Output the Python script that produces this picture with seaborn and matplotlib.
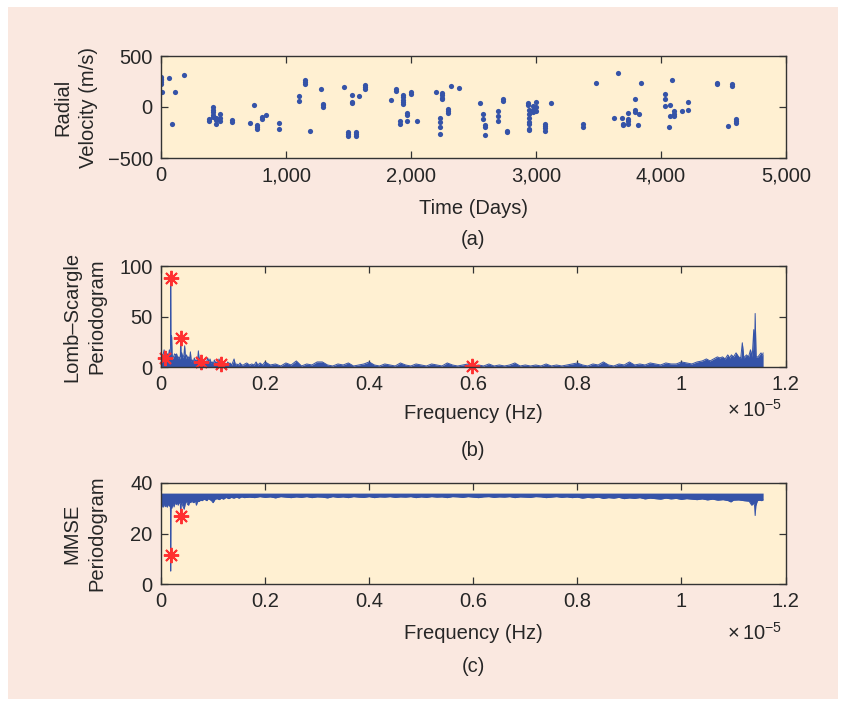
import numpy as np
import seaborn as sns
import matplotlib.pyplot as plt
from matplotlib.patches import Rectangle
from matplotlib.ticker import FuncFormatter

sns.set_style('ticks')
plt.rcParams['font.family'] = ['Liberation Sans', 'DejaVu Sans']
plt.rcParams['mathtext.fontset'] = 'custom'
plt.rcParams['mathtext.rm'] = 'Liberation Sans'
FS = 14.5
plt.rcParams['font.size'] = FS

# (a) radial velocity measurements
time_days = [0, 0, 0, 0, 0, 64, 184, 8, 114, 88,
             413, 413, 413, 413, 413, 381, 381, 442, 442, 442,
             469, 469, 469, 570, 570, 741, 712, 768, 768, 768,
             808, 808, 837, 941, 946, 1101, 1104, 1154, 1154, 1154,
             1189, 1280, 1296, 1296, 1296, 1461, 1634, 1634, 1634, 1528,
             1530, 1530, 1586, 1493, 1493, 1493, 1560, 1560, 1560, 1842,
             1882, 1882, 1934, 1934, 1934, 1934, 1934, 2000, 2000, 1970,
             1970, 1970, 1912, 1912, 2048, 2202, 2248, 2248, 2248, 2248,
             2322, 2386, 2298, 2298, 2298, 2232, 2232, 2232, 2232, 2552,
             2578, 2578, 2594, 2594, 2589, 2698, 2698, 2698, 2738, 2738,
             2765, 2765, 2938, 2938, 2942, 2942, 2942, 2942, 2942, 2942,
             2942, 2973, 2973, 2973, 3000, 3000, 3000, 3069, 3069, 3069,
             3069, 3122, 3373, 3373, 3480, 3658, 3626, 3690, 3696, 3696,
             3733, 3738, 3738, 3738, 3789, 3794, 3794, 3818, 3824, 3842,
             4085, 4032, 4032, 4032, 4074, 4069, 4101, 4101, 4101, 4064,
             4168, 4216, 4218, 4450, 4450, 4565, 4565, 4538, 4600, 4600,
             4600]
velocity = [294, 278, 262, 245, 229, 288, 314, 144, 144, -167,
            0, -25, -52, -78, -98, -118, -137, -104, -130, -163,
            -72, -104, -140, -130, -150, 17, -153, -179, -196, -216,
            -101, -114, -74, -157, -216, 108, 56, 262, 242, 222,
            -231, 176, 33, 17, -3, 196, 213, 196, 173, 118,
            53, 36, 105, -245, -268, -287, -245, -268, -287, 66,
            176, 154, 118, 98, 73, 49, 29, 147, 127, -59,
            -81, -133, -140, -163, -133, 151, 134, 118, 92, 75,
            206, 190, -23, -42, -59, -104, -143, -192, -261, 43,
            -69, -114, -179, -199, -274, -39, -88, -137, 75, 63,
            -235, -248, 43, 24, -25, -65, -104, -143, -163, -212,
            -221, 14, -25, -49, 49, 0, -39, -163, -186, -206,
            -231, 36, -163, -199, 235, 333, -111, -104, -163, -179,
            -55, -114, -140, -163, 75, -25, -52, -172, -65, 239,
            265, 127, 78, 10, 20, -88, -42, -65, -88, -192,
            -39, 46, -29, 235, 222, 222, 203, -182, -114, -137,
            -160]

# (b) Lomb-Scargle periodogram (frequency in units of 1e-5 Hz)
lomb_freq_low = [0.000, 0.002, 0.004, 0.006, 0.008, 0.010, 0.012, 0.014, 0.016, 0.0175,
                 0.0183, 0.0187, 0.0191, 0.0198, 0.0205, 0.0212, 0.022, 0.024, 0.026, 0.028,
                 0.030, 0.032, 0.034, 0.036, 0.0372, 0.0379, 0.0386, 0.040, 0.042, 0.044,
                 0.0455, 0.047, 0.049, 0.051, 0.053, 0.055, 0.0565, 0.058, 0.060, 0.062,
                 0.064, 0.066, 0.0686, 0.070, 0.0718, 0.0735, 0.075, 0.077, 0.0795, 0.082,
                 0.0846, 0.087, 0.0897, 0.092, 0.0942, 0.0965, 0.0987, 0.1005, 0.1026, 0.105,
                 0.1071, 0.109, 0.1115, 0.114, 0.1167, 0.120, 0.1231, 0.126, 0.1282, 0.131,
                 0.1327, 0.136, 0.1404, 0.143, 0.1455, 0.149, 0.1519, 0.155, 0.1583, 0.161,
                 0.1647, 0.170, 0.1744, 0.179, 0.1827, 0.186, 0.1904, 0.195, 0.200]
lomb_power_low = [19, 8, 12, 17, 11, 14, 13, 10, 17, 12,
                  20, 92, 22, 31, 30, 14, 8, 10, 13, 12,
                  13, 9, 10, 8, 12, 30, 10, 14, 9, 12,
                  21, 8, 12, 9, 10, 8, 15, 6, 7, 5,
                  9, 6, 7, 5, 16, 6, 9, 5, 8, 4,
                  6, 4, 9, 5, 8, 4, 5, 3, 7, 4,
                  5, 3, 8, 4, 5, 3, 4, 2, 5, 3,
                  4, 2, 8, 2, 3, 2, 4, 2, 2, 3,
                  4, 2, 3, 2, 5, 2, 4, 2, 5]
lomb_freq_mid = np.round(np.arange(0.21, 1.045, 0.01), 3)
lomb_power_mid = [2, 3, 1, 4, 2, 6, 1, 3, 2, 5,
                  5, 2, 1, 3, 2, 4, 1, 2, 3, 5,
                  2, 1, 3, 2, 1, 4, 2, 1, 3, 2,
                  1, 3, 2, 1, 4, 2, 1, 2, 3, 1,
                  2, 1, 3, 1, 2, 1, 2, 4, 1, 2,
                  1, 2, 1, 3, 1, 2, 1, 2, 3, 4,
                  2, 1, 3, 2, 5, 2, 1, 3, 2, 5,
                  2, 3, 2, 4, 3, 2, 4, 3, 3, 5,
                  4, 3, 5, 6]
lomb_freq_high = [1.048, 1.055, 1.062, 1.069, 1.074, 1.079, 1.084, 1.089, 1.093, 1.096,
                  1.100, 1.105, 1.110, 1.114, 1.117, 1.120, 1.125, 1.129, 1.1327, 1.136,
                  1.139, 1.1405, 1.1417, 1.1435, 1.147, 1.150, 1.153, 1.155, 1.157]
lomb_power_high = [8, 6, 8, 10, 9, 10, 8, 12, 9, 12,
                   10, 14, 10, 9, 24, 9, 12, 10, 17, 10,
                   37, 12, 53, 10, 10, 12, 14, 11, 14]
lomb_peak_freq = [0.0083, 0.0187, 0.0379, 0.0763, 0.1148, 0.5975]
lomb_peak_power = [9, 88, 29, 5, 3, 0.5]

# (c) MMSE periodogram, lower envelope of the dense trace (top sits at 36)
mmse_top = 36.0
mmse_freq_low = [0.000, 0.002, 0.004, 0.006, 0.008, 0.010, 0.012, 0.014, 0.016, 0.0178,
                 0.0183, 0.0187, 0.0191, 0.0196, 0.021, 0.023, 0.025, 0.027, 0.029, 0.031,
                 0.033, 0.035, 0.0372, 0.0379, 0.0386, 0.040, 0.042, 0.0445, 0.047, 0.049,
                 0.051, 0.053, 0.055, 0.057, 0.059, 0.061, 0.063, 0.066, 0.068, 0.070,
                 0.073, 0.076, 0.079, 0.082, 0.085, 0.088, 0.091, 0.094, 0.097, 0.100,
                 0.104, 0.108, 0.112, 0.116, 0.120, 0.125, 0.130, 0.135, 0.140, 0.145,
                 0.150, 0.155, 0.160]
mmse_low_low = [29.2, 31.5, 30.4, 31.8, 30.6, 31.2, 30.4, 31.8, 30.8, 31.5,
                28.0, 5.1, 28.0, 31.5, 30.0, 32.0, 30.5, 32.7, 31.4, 32.2,
                31.2, 32.5, 31.5, 27.2, 31.5, 32.2, 30.8, 29.6, 32.3, 32.7,
                31.5, 31.2, 32.5, 32.2, 33.0, 32.4, 32.2, 33.0, 31.2, 32.6,
                32.7, 33.2, 33.0, 33.5, 33.4, 33.0, 33.8, 33.4, 33.0, 32.2,
                33.6, 33.8, 33.4, 34.0, 33.6, 34.3, 33.8, 34.3, 34.0, 34.4,
                34.0, 34.5, 34.2]
mmse_freq_mid = np.round(np.arange(0.17, 1.045, 0.01), 3)
mmse_low_mid = [34.4, 34.2, 34.6, 34.3, 34.5, 34.1, 34.6, 34.4, 34.2, 34.5,
                34.3, 34.6, 34.2, 34.5, 34.4, 34.1, 34.6, 34.3, 34.5, 34.2,
                34.6, 34.4, 34.3, 34.6, 34.2, 34.5, 34.4, 34.6, 34.3, 34.5,
                34.4, 34.6, 34.2, 34.5, 34.3, 34.6, 34.4, 34.5, 34.2, 34.6,
                34.5, 34.3, 34.6, 34.4, 34.2, 34.5, 34.6, 34.3, 34.5, 34.4,
                34.6, 34.2, 34.5, 34.4, 34.3, 34.6, 34.5, 34.2, 34.4, 34.6,
                34.3, 34.5, 34.2, 34.4, 34.0, 34.3, 34.1, 34.4, 33.9, 34.2,
                34.0, 34.3, 33.8, 34.1, 33.9, 34.2, 33.7, 34.0, 33.8, 33.6,
                34.0, 33.7, 33.9, 33.5, 33.8, 33.6, 33.4, 33.7]
mmse_freq_high = [1.05, 1.06, 1.07, 1.08, 1.09, 1.095, 1.10, 1.11, 1.12, 1.13,
                  1.135, 1.139, 1.1405, 1.1417, 1.143, 1.146, 1.15, 1.154, 1.157]
mmse_low_high = [33.3, 33.6, 33.2, 33.4, 33.0, 32.5, 33.2, 33.3, 33.0, 32.8,
                 31.2, 32.0, 31.0, 27.1, 31.0, 33.0, 33.2, 33.0, 33.3]
mmse_peak_freq = [0.0187, 0.0379]
mmse_peak_val = [11.3, 26.8]

blue = '#3553a8'
red = '#ff3030'
axes_bg = '#fff0d2'
page_bg = '#fae8e0'
edge = '#333333'

W, H = 846, 707
fig = plt.figure(figsize=(W / 100, H / 100), dpi=100)
fig.patch.set_facecolor('white')
fig.patches.append(Rectangle((8 / W, 8 / H), 830 / W, 692 / H, transform=fig.transFigure,
                             facecolor=page_bg, edgecolor='none', zorder=-5))


def make_ax(left, top, right, bottom):
    ax = fig.add_axes([left / W, 1 - bottom / H, (right - left) / W, (bottom - top) / H])
    ax.set_facecolor(axes_bg)
    for s in ax.spines.values():
        s.set_color(edge)
        s.set_linewidth(1.0)
    ax.tick_params(direction='in', top=True, right=True, length=5, width=0.9,
                   color=edge, labelsize=FS, pad=6)
    return ax


fmt_g = FuncFormatter(lambda v, p: f'{v:g}')

# (a)
ax_a = make_ax(161, 56, 786, 158)
sns.scatterplot(x=time_days, y=velocity, ax=ax_a, color=blue, s=14, linewidth=0)
ax_a.set_xlim(0, 5000)
ax_a.set_ylim(-500, 500)
ax_a.set_xticks([0, 1000, 2000, 3000, 4000, 5000])
ax_a.set_yticks([-500, 0, 500])
ax_a.xaxis.set_major_formatter(FuncFormatter(lambda v, p: f'{v:,.0f}'))
ax_a.set_xlabel('Time (Days)', fontsize=FS, labelpad=10)
ax_a.set_ylabel('Radial\nVelocity (m/s)', fontsize=FS, linespacing=1.4)
ax_a.yaxis.set_label_coords(-0.101, 0.5)

# (b)
ax_b = make_ax(161, 266, 785.5, 367)
lomb_freq = np.concatenate([lomb_freq_low, lomb_freq_mid, lomb_freq_high])
lomb_power = np.concatenate([lomb_power_low, lomb_power_mid, lomb_power_high])
ax_b.fill_between(lomb_freq, 0, lomb_power, color=blue, linewidth=0)
sns.lineplot(x=lomb_freq, y=lomb_power, ax=ax_b, color=blue, linewidth=0.7)
ax_b.plot(lomb_peak_freq, lomb_peak_power, linestyle='none', marker=(8, 2, 0),
          markersize=11, markeredgecolor=red, markeredgewidth=1.4, clip_on=False)
ax_b.set_xlim(0, 1.2)
ax_b.set_ylim(0, 100)
ax_b.set_yticks([0, 50, 100])
ax_b.xaxis.set_major_formatter(fmt_g)
ax_b.set_xlabel('Frequency (Hz)', fontsize=FS, labelpad=7)
ax_b.set_ylabel('Lomb\u2013Scargle\nPeriodogram', fontsize=FS, linespacing=1.4)
ax_b.yaxis.set_label_coords(-0.088, 0.5)

# (c)
ax_c = make_ax(161, 483, 785.5, 584)
mmse_freq = np.concatenate([mmse_freq_low, mmse_freq_mid, mmse_freq_high])
mmse_low = np.concatenate([mmse_low_low, mmse_low_mid, mmse_low_high])
ax_c.fill_between(mmse_freq, mmse_low, mmse_top, color=blue, linewidth=0)
sns.lineplot(x=mmse_freq, y=mmse_low, ax=ax_c, color=blue, linewidth=0.7)
ax_c.plot(mmse_peak_freq, mmse_peak_val, linestyle='none', marker=(8, 2, 0),
          markersize=11, markeredgecolor=red, markeredgewidth=1.4)
ax_c.set_xlim(0, 1.2)
ax_c.set_ylim(0, 40)
ax_c.set_yticks([0, 20, 40])
ax_c.xaxis.set_major_formatter(fmt_g)
ax_c.set_xlabel('Frequency (Hz)', fontsize=FS, labelpad=9)
ax_c.set_ylabel('MMSE\nPeriodogram', fontsize=FS, linespacing=1.4)
ax_c.yaxis.set_label_coords(-0.088, 0.5)

fig.text(727 / W, 1 - 410 / H, r'$\times\,10^{-5}$', fontsize=FS, va='center', ha='left')
fig.text(727 / W, 1 - 633 / H, r'$\times\,10^{-5}$', fontsize=FS, va='center', ha='left')

for lab, y in (('(a)', 240), ('(b)', 450), ('(c)', 667)):
    fig.text(473 / W, 1 - y / H, lab, fontsize=FS, ha='center', va='center')

fig.savefig('out.png', dpi=100)
